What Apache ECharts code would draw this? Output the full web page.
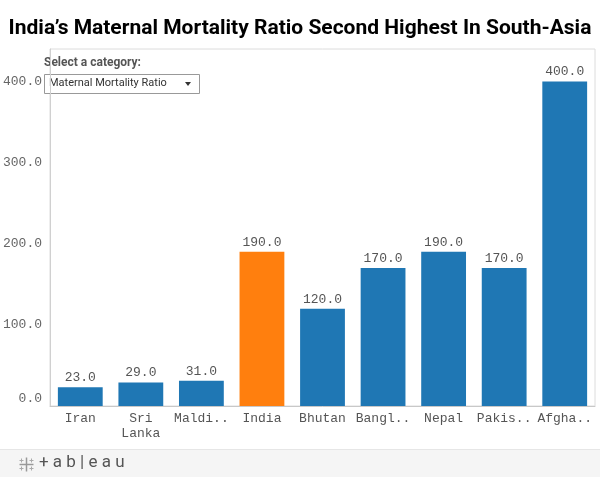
<!DOCTYPE html>
<html><head><meta charset="utf-8">
<script src="https://cdn.jsdelivr.net/npm/echarts@6/dist/echarts.min.js"></script>
<style>html,body{margin:0;padding:0;background:#fff}#c{width:600px;height:477px}</style>
</head><body><div id="c"></div>
<script>
var categories = ['Iran','Sri\nLanka','Maldi..','India','Bhutan','Bangl..','Nepal','Pakis..','Afgha..'];
var values = [23, 29, 31, 190, 120, 170, 190, 170, 400];
var highlight = 'India';
var yTicks = [0, 100, 200, 300, 400];

var mono = '"Liberation Mono", "Courier New", monospace';
var chart = echarts.init(document.getElementById('c'), null, {renderer:'canvas'});
chart.setOption({
  animation: false,
  title: {
    text: 'India\u2019s Maternal Mortality Ratio Second Highest In South-Asia',
    left: 'center', top: 13,
    textStyle: {fontFamily: 'Roboto', fontWeight: 'bold', fontSize: 21, color: '#000'}
  },
  grid: {left: 50, right: 5, top: 49, bottom: 71, show: true, borderColor: '#dcdcdc', borderWidth: 1},
  xAxis: {
    type: 'category', data: categories,
    axisLine: {lineStyle: {color: '#c8c8c8'}},
    axisTick: {length: 6, lineStyle: {color: '#c8c8c8'}},
    axisLabel: {fontFamily: mono, fontSize: 13, color: '#555', lineHeight: 15, margin: 5, interval: 0}
  },
  yAxis: {
    type: 'value', min: 0, max: 440, interval: 100,
    splitLine: {show: false},
    axisLine: {show: true, lineStyle: {color: '#d0d0d0'}},
    axisTick: {show: false},
    axisLabel: {
      fontFamily: mono, fontSize: 13, color: '#666', margin: 8,
      formatter: function (v) {
        if (yTicks.indexOf(v) < 0) return '';
        if (v === 0) return '{z|0.0}';
        return v.toFixed(1);
      },
      rich: {z: {fontFamily: mono, fontSize: 13, color: '#666', padding: [0, 0, 15, 0]}}
    }
  },
  series: [{
    type: 'bar', barCategoryGap: '26%',
    data: values.map(function (v, i) {
      return {value: v, itemStyle: {color: categories[i] === highlight ? '#ff7f0e' : '#1f77b4'}};
    }),
    label: {show: true, position: 'top', distance: 3, fontFamily: mono, fontSize: 13, color: '#555',
      formatter: function (p) { return p.value.toFixed(1); }}
  }],
  graphic: [
    {type: 'rect', shape: {x: 0, y: 449, width: 600, height: 28}, style: {fill: '#f5f5f5'}},
    {type: 'line', shape: {x1: 0, y1: 449.5, x2: 600, y2: 449.5}, style: {stroke: '#e6e6e6', lineWidth: 1}},
    {type: 'text', left: 44, top: 57, style: {text: 'Select a category:', fontFamily: 'Roboto', fontWeight: 'bold', fontSize: 12, fill: '#555'}},
    {type: 'rect', shape: {x: 44.5, y: 74.5, width: 155, height: 19}, style: {fill: '#fff', stroke: '#999', lineWidth: 1}},
    {type: 'text', left: 49, top: 78, style: {text: 'Maternal Mortality Ratio', fontFamily: 'Roboto', fontSize: 11, fill: '#333'}},
    {type: 'polygon', shape: {points: [[185, 82], [191, 82], [188, 86]]}, style: {fill: '#333'}},
    // tableau logo
    {type: 'group', left: 17, top: 455, children: [
      {type: 'line', shape: {x1: 7, y1: 2, x2: 7, y2: 16}, style: {stroke: '#999', lineWidth: 1.5}},
      {type: 'line', shape: {x1: 0, y1: 9, x2: 14, y2: 9}, style: {stroke: '#999', lineWidth: 1.5}},
      {type: 'line', shape: {x1: 2, y1: 3, x2: 2, y2: 7}, style: {stroke: '#aaa', lineWidth: 1}},
      {type: 'line', shape: {x1: 0, y1: 5, x2: 4, y2: 5}, style: {stroke: '#aaa', lineWidth: 1}},
      {type: 'line', shape: {x1: 12, y1: 3, x2: 12, y2: 7}, style: {stroke: '#aaa', lineWidth: 1}},
      {type: 'line', shape: {x1: 10, y1: 5, x2: 14, y2: 5}, style: {stroke: '#aaa', lineWidth: 1}},
      {type: 'line', shape: {x1: 2, y1: 11, x2: 2, y2: 15}, style: {stroke: '#aaa', lineWidth: 1}},
      {type: 'line', shape: {x1: 0, y1: 13, x2: 4, y2: 13}, style: {stroke: '#aaa', lineWidth: 1}},
      {type: 'line', shape: {x1: 12, y1: 11, x2: 12, y2: 15}, style: {stroke: '#aaa', lineWidth: 1}},
      {type: 'line', shape: {x1: 10, y1: 13, x2: 14, y2: 13}, style: {stroke: '#aaa', lineWidth: 1}}
    ]},
    {type: 'text', left: 39, top: 454, style: {text: '+ a b | e a u', fontFamily: 'Roboto', fontSize: 17, fill: '#555'}}
  ]
});
</script></body></html>
